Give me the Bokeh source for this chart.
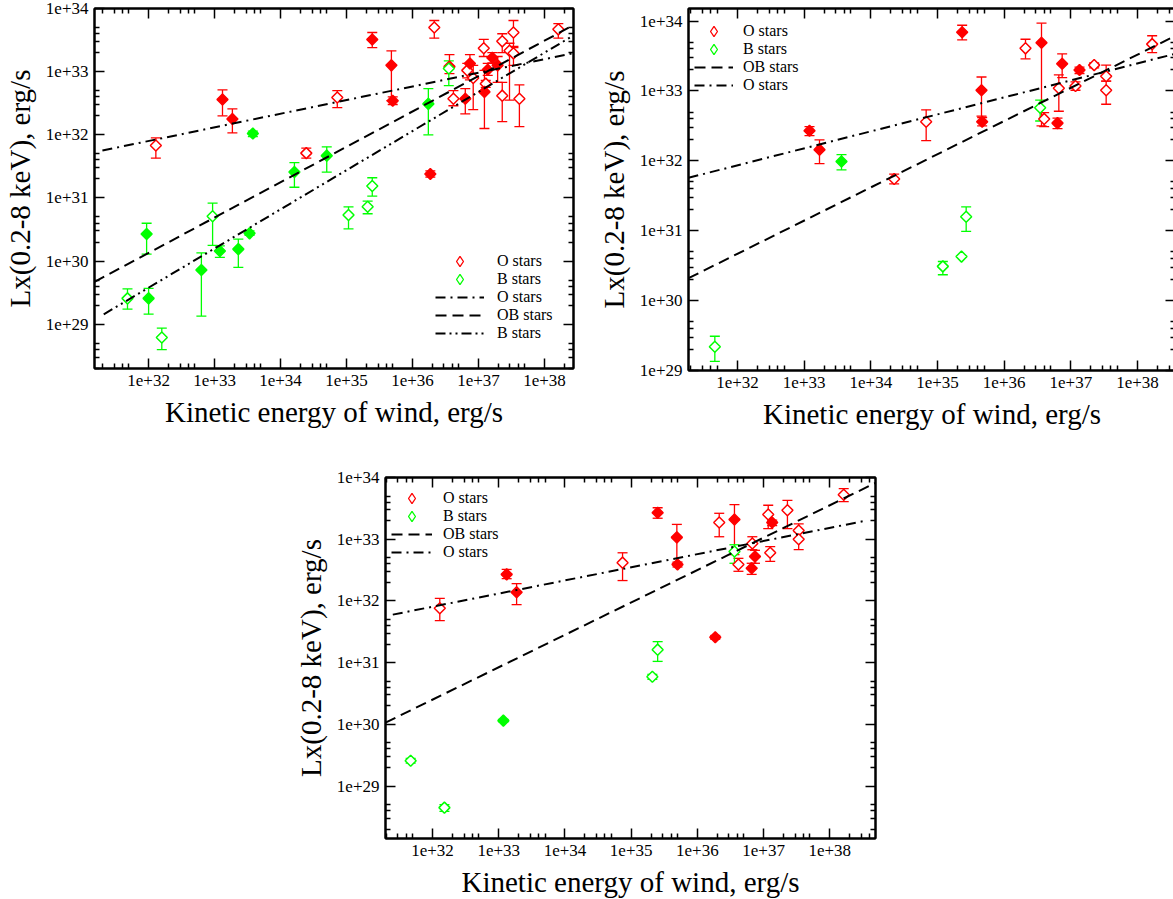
import math
from bokeh.plotting import figure
from bokeh.models import (Range1d, LogAxis, FixedTicker, CustomJSTickFormatter, Whisker,
                          TeeHead, ColumnDataSource, Legend, LegendItem, Spacer)
from bokeh.core.properties import value
from bokeh.layouts import column, row
from bokeh.embed import file_html
from bokeh.resources import INLINE

# ---------------- data (log10 of erg/s) ----------------
# Panel 1
P1_O_OPEN = dict(
    logE=[32.11, 34.86, 34.39, 36.33, 36.62, 36.83, 36.92, 37.08, 37.11, 37.36, 37.36, 37.47, 37.53, 37.53, 37.62, 38.21],
    logL=[31.83, 32.59, 31.71, 33.70, 32.57, 33.02, 32.90, 33.37, 32.81, 33.48, 32.62, 33.33, 33.62, 33.29, 32.57, 33.67],
    hi=[31.95, 32.70, 31.79, 33.81, 32.70, 33.13, 33.10, 33.51, 32.86, 33.60, 32.83, 33.45, 33.81, 33.38, 32.79, 33.76],
    lo=[31.63, 32.43, 31.63, 33.53, 32.46, 32.90, 32.40, 33.24, 32.75, 33.30, 32.21, 32.55, 33.40, 33.10, 32.13, 33.53])
P1_O_FILL = dict(
    logE=[33.12, 33.27, 35.39, 35.68, 35.70, 36.56, 36.27, 36.80, 36.87, 37.09, 37.14, 37.21, 37.29],
    logL=[32.56, 32.25, 33.51, 33.10, 32.54, 33.08, 31.38, 32.57, 33.13, 32.68, 33.03, 33.22, 33.10],
    hi=[32.71, 32.41, 33.62, 33.33, 32.60, 33.27, 31.43, 32.73, 33.27, 33.02, 33.13, 33.30, 33.24],
    lo=[32.30, 32.03, 33.38, 32.54, 32.48, 32.97, 31.33, 32.33, 32.87, 32.10, 32.94, 33.14, 32.83])
P1_B_OPEN = dict(
    logE=[32.97, 31.68, 32.20, 35.39, 35.32, 35.03, 36.55],
    logL=[30.71, 29.41, 28.79, 31.19, 30.86, 30.73, 33.05],
    hi=[30.92, 29.56, 28.94, 31.32, 30.95, 30.86, 33.17],
    lo=[30.25, 29.24, 28.60, 31.03, 30.75, 30.51, 32.78])
P1_B_FILL = dict(
    logE=[33.58, 34.21, 31.97, 32.00, 32.80, 33.08, 33.36, 33.53, 34.70, 36.24],
    logL=[32.02, 31.41, 30.43, 29.41, 29.86, 30.16, 30.19, 30.44, 31.67, 32.49],
    hi=[32.06, 31.56, 30.60, 29.57, 30.13, 30.24, 30.35, 30.48, 31.81, 32.73],
    lo=[31.97, 31.17, 30.11, 29.16, 29.13, 30.06, 29.90, 30.41, 31.41, 32.00])
# fits: logL = a + b*logE
P1_FITS = dict(name=["O stars", "OB stars", "B stars"],
               a=[24.99, 12.21, 9.74], b=[0.216, 0.56, 0.62],
               xmin=[31.30, 31.18, 31.32], xmax=[38.44, 38.44, 38.44])

# Panel 2
P2_O_OPEN = dict(
    logE=[34.35, 34.83, 36.32, 36.60, 36.82, 37.07, 37.35, 37.53, 37.53, 38.22],
    logL=[31.74, 32.56, 33.61, 32.60, 33.04, 33.07, 33.37, 33.21, 33.01, 33.67],
    hi=[31.81, 32.73, 33.74, 32.69, 33.23, 33.13, 33.40, 33.37, 33.14, 33.79],
    lo=[31.67, 32.29, 33.46, 32.49, 32.71, 33.01, 33.33, 33.14, 32.81, 33.55])
P2_O_FILL = dict(
    logE=[33.08, 33.23, 35.37, 35.66, 35.67, 36.56, 36.80, 36.87, 37.13],
    logL=[32.43, 32.16, 33.84, 33.01, 32.56, 33.69, 32.54, 33.39, 33.30],
    hi=[32.49, 32.30, 33.94, 33.20, 32.62, 33.97, 32.61, 33.53, 33.34],
    lo=[32.36, 31.96, 33.73, 32.64, 32.50, 32.50, 32.46, 33.19, 33.25])
P2_B_OPEN = dict(
    logE=[31.66, 35.08, 35.36, 35.43, 36.54],
    logL=[29.34, 30.49, 30.63, 31.20, 32.76],
    hi=[29.49, 30.56, 30.63, 31.34, 32.87],
    lo=[29.13, 30.37, 30.63, 30.99, 32.57])
P2_B_FILL = dict(logE=[33.56], logL=[31.99], hi=[32.09], lo=[31.87])
P2_FITS = dict(name=["OB stars", "O stars"],
               a=[15.47, 24.16], b=[0.475, 0.243],
               xmin=[31.265, 31.265], xmax=[38.57, 38.57])

# Panel 3
P3_O_OPEN = dict(
    logE=[32.11, 34.87, 36.33, 36.62, 36.83, 37.07, 37.10, 37.36, 37.53, 37.53, 38.21],
    logL=[31.88, 32.62, 33.27, 32.59, 32.93, 33.40, 32.78, 33.47, 33.14, 33.00, 33.72],
    hi=[32.04, 32.78, 33.42, 32.69, 33.04, 33.55, 32.88, 33.63, 33.25, 33.12, 33.82],
    lo=[31.68, 32.33, 33.04, 32.48, 32.83, 33.17, 32.64, 33.17, 33.01, 32.83, 33.61])
P3_O_FILL = dict(
    logE=[33.12, 33.27, 35.40, 35.69, 35.70, 36.27, 36.56, 36.82, 36.87, 37.13],
    logL=[32.43, 32.14, 33.43, 33.03, 32.59, 31.41, 33.32, 32.53, 32.72, 33.27],
    hi=[32.51, 32.28, 33.51, 33.24, 32.63, 31.44, 33.56, 32.61, 32.82, 33.31],
    lo=[32.36, 31.94, 33.34, 32.61, 32.55, 31.38, 32.75, 32.43, 32.61, 33.22])
P3_B_OPEN = dict(
    logE=[31.67, 32.18, 35.40, 35.32, 36.56],
    logL=[29.41, 28.65, 31.21, 30.77, 32.80],
    hi=[29.45, 28.70, 31.34, 30.81, 32.91],
    lo=[29.37, 28.59, 31.02, 30.73, 32.61])
P3_B_FILL = dict(logE=[33.07], logL=[30.06], hi=[30.08], lo=[30.04])
P3_FITS = dict(name=["OB stars", "O stars"],
               a=[13.60, 25.09], b=[0.525, 0.213],
               xmin=[31.29, 31.40], xmax=[38.69, 38.53])

X_DECADES = list(range(31, 40))
Y_DECADES = list(range(28, 35))
MINOR_MULT = [2, 3, 4, 5]

XLABEL = "Kinetic energy of wind, erg/s"
YLABEL = "Lx(0.2-8 keV), erg/s"

# ---------------- styling ----------------
FONT = "Liberation Serif"
RED = "#ff0000"
GREEN = "#00ff00"
DASH = {"O stars": "10 5 2 5", "OB stars": "11 6", "B stars": "10 4 2 4 2 4"}
LEG_BOX = 26  # height of one legend row box in px


def ticker(decades):
    major = [10.0 ** d for d in decades]
    minor = [m * 10.0 ** d for d in decades for m in MINOR_MULT]
    return FixedTicker(ticks=major, minor_ticks=minor)


def style_axis(ax, dec, labels):
    ax.ticker = ticker(dec)
    ax.major_tick_in = 10
    ax.major_tick_out = 0
    ax.minor_tick_in = 5
    ax.minor_tick_out = 0
    ax.axis_line_width = 2
    ax.major_tick_line_width = 1.5
    ax.minor_tick_line_width = 1.5
    if labels:
        ax.formatter = CustomJSTickFormatter(code="return '1e+' + Math.round(Math.log10(tick));")
        ax.major_label_text_font = FONT
        ax.major_label_text_font_size = "17px"
        ax.major_label_text_color = "black"
        ax.major_label_standoff = 6
        ax.axis_label_text_font = FONT
        ax.axis_label_text_font_size = "29px"
        ax.axis_label_text_font_style = "normal"
        ax.axis_label_text_color = "black"
        ax.axis_label_standoff = 7
    else:
        ax.formatter = CustomJSTickFormatter(code="return '';")
        ax.major_label_text_font_size = "0px"
        ax.major_label_standoff = 0
        ax.axis_label_standoff = 0


def make_panel(xr, yr, fw, fh, borders, groups, fits, legend_cfg):
    p = figure(x_axis_type="log", y_axis_type="log",
               x_range=Range1d(10 ** xr[0], 10 ** xr[1]),
               y_range=Range1d(10 ** yr[0], 10 ** yr[1]),
               frame_width=fw, frame_height=fh,
               min_border_left=borders[0], min_border_right=borders[1],
               min_border_top=borders[2], min_border_bottom=borders[3],
               output_backend="svg", toolbar_location=None)
    p.xgrid.visible = False
    p.ygrid.visible = False
    p.outline_line_color = "black"
    p.outline_line_width = 2
    p.xaxis.axis_label = XLABEL
    p.yaxis.axis_label = YLABEL
    style_axis(p.xaxis[0], X_DECADES, True)
    style_axis(p.yaxis[0], Y_DECADES, True)
    top = LogAxis()
    style_axis(top, X_DECADES, False)
    p.add_layout(top, "above")
    right = LogAxis()
    style_axis(right, Y_DECADES, False)
    p.add_layout(right, "right")

    rends = {}
    for key, (data, color, filled) in groups.items():
        src = ColumnDataSource(dict(
            x=[10 ** v for v in data["logE"]],
            y=[10 ** v for v in data["logL"]],
            hi=[10 ** v for v in data["hi"]],
            lo=[10 ** v for v in data["lo"]]))
        w = Whisker(source=src, base="x", upper="hi", lower="lo", dimension="height",
                    line_color=color, line_width=1.3,
                    upper_head=TeeHead(size=10, line_color=color, line_width=1.3),
                    lower_head=TeeHead(size=10, line_color=color, line_width=1.3))
        p.add_layout(w)
        r = p.scatter("x", "y", source=src, marker="square", angle=math.pi / 4, size=7.8,
                      line_color=color, line_width=1.5,
                      fill_color=color if filled else "white")
        rends[key] = r
        if not filled:
            # zero-size twin used only as the legend sample (diamond shape)
            rends[key + "_leg"] = p.scatter("x", "y", source=src, marker="diamond", size=0,
                                            line_color=color, line_width=1.3,
                                            fill_color="white")

    for name, a, b, x0, x1 in zip(fits["name"], fits["a"], fits["b"], fits["xmin"], fits["xmax"]):
        xs = [10 ** x0, 10 ** x1]
        ys = [10 ** (a + b * x0), 10 ** (a + b * x1)]
        rends["fit_" + name] = p.line(xs, ys, line_color="black", line_width=2,
                                      line_dash=DASH[name])

    # one single-row legend per entry, so rows can be placed at the reference spacing
    lx = legend_cfg["x"]
    for (lbl, k), cy in zip(legend_cfg["items"], legend_cfg["rows"]):
        leg = Legend(items=[LegendItem(label=value(lbl), renderers=[rends[k]])],
                     location=(lx, cy - LEG_BOX // 2),
                     glyph_width=legend_cfg["gw"], glyph_height=LEG_BOX, label_height=LEG_BOX,
                     label_standoff=legend_cfg["standoff"], spacing=0, padding=0, margin=0,
                     border_line_color=None, background_fill_alpha=0,
                     label_text_font=FONT, label_text_font_size="16px",
                     label_text_color="black")
        p.add_layout(leg)
    return p


# legend rows: distance (px) of each row centre above the bottom of the frame
p1 = make_panel((31.18, 38.44), (28.30, 34.0), 479, 360, (89, 14, 8, 62),
                {"O_OPEN": (P1_O_OPEN, RED, False), "O_FILL": (P1_O_FILL, RED, True),
                 "B_OPEN": (P1_B_OPEN, GREEN, False), "B_FILL": (P1_B_FILL, GREEN, True)},
                P1_FITS,
                dict(items=[("O stars", "O_OPEN_leg"), ("B stars", "B_OPEN_leg"),
                            ("O stars", "fit_O stars"), ("OB stars", "fit_OB stars"),
                            ("B stars", "fit_B stars")],
                     x=341, rows=[107, 89, 71, 53, 35], gw=49, standoff=13))

p2 = make_panel((31.265, 38.57), (29.0, 34.18), 487, 362, (101, 3, 7, 61),
                {"O_OPEN": (P2_O_OPEN, RED, False), "O_FILL": (P2_O_FILL, RED, True),
                 "B_OPEN": (P2_B_OPEN, GREEN, False), "B_FILL": (P2_B_FILL, GREEN, True)},
                P2_FITS,
                dict(items=[("O stars", "O_OPEN_leg"), ("B stars", "B_OPEN_leg"),
                            ("OB stars", "fit_OB stars"), ("O stars", "fit_O stars")],
                     x=6, rows=[339, 321, 303, 285], gw=39, standoff=10))

p3 = make_panel((31.29, 38.69), (28.15, 34.0), 490, 361, (95, 10, 46, 60),
                {"O_OPEN": (P3_O_OPEN, RED, False), "O_FILL": (P3_O_FILL, RED, True),
                 "B_OPEN": (P3_B_OPEN, GREEN, False), "B_FILL": (P3_B_FILL, GREEN, True)},
                P3_FITS,
                dict(items=[("O stars", "O_OPEN_leg"), ("B stars", "B_OPEN_leg"),
                            ("OB stars", "fit_OB stars"), ("O stars", "fit_O stars")],
                     x=6, rows=[340, 322, 304, 286], gw=41, standoff=11))

layout = column(row(p1, p2), row(Spacer(width=290, height=10), p3))

open("out.html", "w").write(file_html(layout, INLINE))
